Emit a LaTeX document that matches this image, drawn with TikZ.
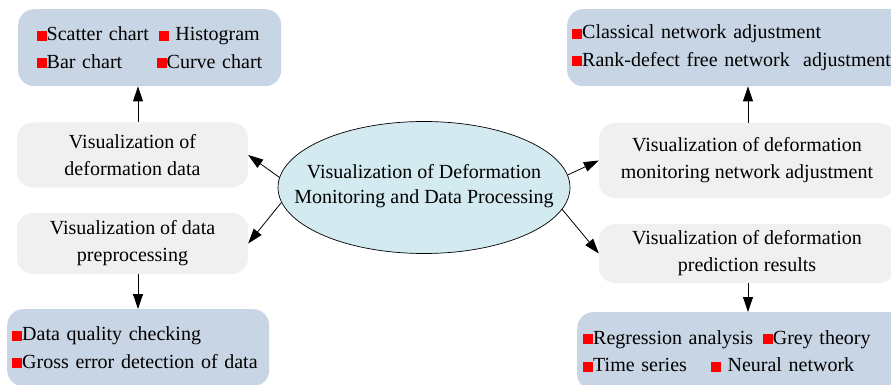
\documentclass[tikz,border=0pt]{standalone}
\usepackage{fontspec}
\setmainfont{Liberation Serif}
\usetikzlibrary{shapes.geometric,arrows.meta}
\definecolor{boxblue}{RGB}{200,213,228}
\definecolor{boxgray}{RGB}{240,240,240}
\definecolor{ellcyan}{RGB}{210,234,240}
\newcommand\rsq{{\color{red}\rule{10pt}{10pt}}}
\begin{document}
\begin{tikzpicture}[x=1pt,y=-1pt,
  bluebox/.style={fill=boxblue, rounded corners=16pt, inner ysep=0pt, align=left,
     font=\fontsize{20}{27.5}\selectfont},
  graybox/.style={fill=boxgray, rounded corners=16pt, inner sep=0pt, align=center,
     font=\fontsize{20}{27}\selectfont},
  arr/.style={-{Triangle[length=15pt,width=10pt]}, line width=0.8pt}]
\path[use as bounding box, fill=white] (0,0) rectangle (891,385);

% centre ellipse
\node[ellipse, draw, line width=0.7pt, fill=ellcyan, minimum width=292pt, minimum height=132pt,
  inner sep=0pt] (el) at (424,187.5) {};
\node[align=center, inner sep=0pt, font=\fontsize{20}{25}\selectfont] (eltext) at ([yshift=1pt]el.center)
  {Visualization of Deformation\\Monitoring and Data Processing};

% left side
\node[bluebox, anchor=north west, inner xsep=18.5pt, text width=226pt, minimum height=77pt] (bl1) at (18,9)
  {\makebox[122pt][l]{\rsq Scatter chart}\rsq\ Histogram\\%
   \makebox[120pt][l]{\rsq Bar chart}\rsq Curve chart};
\node[graybox, minimum width=231pt, minimum height=65pt] (g1) at (132.5,155)
  {Visualization of\\deformation data};
\node[graybox, minimum width=231pt, minimum height=61pt] (g2) at (132.5,243.5)
  {Visualization of data\\preprocessing};
\node[bluebox, anchor=north west, inner xsep=5pt, text width=252pt, minimum height=77pt] (bl2) at (7,309)
  {\rsq Data quality checking\\\rsq Gross error detection of data};

% right side
\node[bluebox, anchor=north west, inner xsep=5pt, text width=330pt, minimum height=77pt] (tr) at (567,9)
  {\rsq Classical network adjustment\\\rsq Rank-defect free network\ \ adjustment};
\node[graybox, minimum width=296pt, minimum height=75pt] (r1) at (747,160.5)
  {Visualization of deformation\\monitoring network adjustment};
\node[graybox, minimum width=296pt, minimum height=59pt] (r2) at (747,253.5)
  {Visualization of deformation\\prediction results};
\node[bluebox, anchor=north west, inner xsep=6pt, text width=320pt, minimum height=78pt] (br) at (577,312)
  {\rsq Regression analysis\hspace{3pt} \rsq Grey theory\\%
   \rsq Time series\hspace{24pt}\rsq\ Neural network};

% connectors
\draw[arr] (el.176) -- (g1.east);
\draw[arr] (el.186) -- (g2.east);
\draw[arr] (el.5) -- (r1.west);
\draw[arr] (el.-9) -- (r2.west);
\draw[arr] ([xshift=5.5pt]g1.north) -- ([xshift=5.5pt]g1.north |- bl1.south);
\draw[arr] ([xshift=5.5pt]g2.south) -- ([xshift=5.5pt]g2.south |- bl2.north);
\draw[arr] ([xshift=1pt]r1.north) -- ([xshift=1pt]r1.north |- tr.south);
\draw[arr] ([xshift=1pt]r2.south) -- ([xshift=1pt]r2.south |- br.north);
\end{tikzpicture}
\end{document}
